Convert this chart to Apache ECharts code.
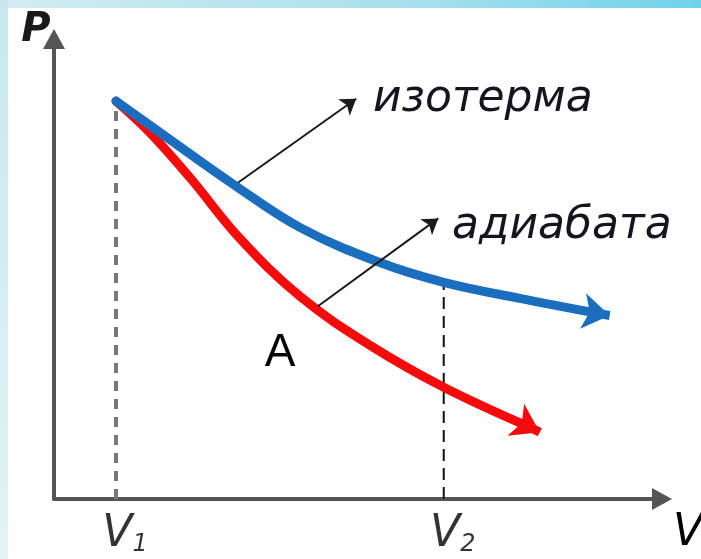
<!DOCTYPE html>
<html>
<head>
<meta charset="utf-8">
<script src="https://cdn.jsdelivr.net/npm/echarts@6/dist/echarts.min.js"></script>
<style>
html, body { margin: 0; padding: 0; background: #fff; }
#chart { width: 701px; height: 559px; }
</style>
</head>
<body>
<div id="chart"></div>
<script>
// V и P в условных единицах осей (0..10)
var isotherm = [[1.02, 8.65], [1.91, 7.81], [2.94, 6.85], [4.05, 5.9], [5.36, 5.14], [6.41, 4.71], [7.66, 4.36], [8.96, 4.03]];
var isothermTip = [9.14, 3.99];
var adiabat = [[1.02, 8.65], [1.58, 7.96], [2.24, 6.98], [3.06, 5.66], [4.05, 4.4], [5.2, 3.34], [6.41, 2.43], [7.83, 1.56]];
var adiabatTip = [7.99, 1.45];
var volumes = [1.02, 6.41];
var volumeSubs = ['1', '2'];
// стрелки-указатели к подписям
var pointers = [
  [[3.03, 6.88], [4.97, 8.7]],
  [[4.34, 4.19], [6.32, 6.1]]
];
var curveNames = ['изотерма', 'адиабата'];

var chart = echarts.init(document.getElementById('chart'));

var italic = 'italic 44px "DejaVu Sans"';

function axisStyle () {
  return {
    type: 'value', min: 0, max: 10,
    axisLine: {
      symbol: ['none', 'triangle'], symbolSize: [22, 20],
      lineStyle: { color: '#555', width: 4 }
    },
    axisTick: { show: false }, axisLabel: { show: false }, splitLine: { show: false }
  };
}

chart.setOption({
  backgroundColor: '#fff',
  animation: false,
  grid: { left: 54, right: 39, top: 39, bottom: 60 },
  xAxis: axisStyle(),
  yAxis: axisStyle(),
  graphic: [
    { type: 'rect', z: -10, shape: { x: 0, y: 0, width: 701, height: 8 },
      style: { fill: new echarts.graphic.LinearGradient(0, 0, 1, 0, [{ offset: 0, color: '#d3ecf1' }, { offset: 0.6, color: '#a6e0ec' }, { offset: 1, color: '#6fd2ea' }]) } },
    { type: 'rect', z: -10, shape: { x: 0, y: 0, width: 8, height: 559 },
      style: { fill: new echarts.graphic.LinearGradient(0, 0, 0, 1, [{ offset: 0, color: '#c8e7ee' }, { offset: 1, color: '#e3f3f6' }]) } },
    { type: 'text', x: 373, y: 100, style: { text: curveNames[0], font: italic, fill: '#151520', align: 'left', verticalAlign: 'middle' } },
    { type: 'text', x: 452, y: 227, style: { text: curveNames[1], font: italic, fill: '#151520', align: 'left', verticalAlign: 'middle' } },
    { type: 'text', x: 280, y: 353, style: { text: 'A', font: '46px "Liberation Sans"', fill: '#000', align: 'center', verticalAlign: 'middle' } },
    { type: 'text', x: 36, y: 31, style: { text: 'P', font: 'italic bold 40px "DejaVu Sans"', fill: '#1a1a1a', align: 'center', verticalAlign: 'middle' } },
    { type: 'text', x: 688, y: 534, style: { text: 'V', font: 'italic 44px "DejaVu Sans"', fill: '#000', align: 'center', verticalAlign: 'middle' } }
  ],
  series: [
    {
      type: 'line', symbol: 'none', silent: true,
      data: [[volumes[0], 0], adiabat[0]],
      lineStyle: { color: '#777', width: 4, type: [10, 8] }
    },
    {
      type: 'line', symbol: 'none', silent: true,
      data: [[volumes[1], 0], [volumes[1], isotherm[5][1]]],
      lineStyle: { color: '#111', width: 2, type: [12, 7] }
    },
    {
      name: 'адиабата', type: 'line', symbol: 'none', smooth: 0.38, z: 3,
      data: adiabat,
      lineStyle: { color: '#f40c0c', width: 9, cap: 'round' }
    },
    {
      name: 'изотерма', type: 'line', symbol: 'none', smooth: 0.38, z: 4,
      data: isotherm,
      lineStyle: { color: '#1b6dbd', width: 9, cap: 'round' }
    },
    {
      type: 'lines', coordinateSystem: 'cartesian2d', z: 5,
      symbol: ['none', 'arrow'], symbolSize: 27,
      data: [
        { coords: [adiabat[adiabat.length - 1], adiabatTip], lineStyle: { color: '#f40c0c', width: 9, opacity: 1 } },
        { coords: [isotherm[isotherm.length - 1], isothermTip], lineStyle: { color: '#1b6dbd', width: 9, opacity: 1 } }
      ]
    },
    {
      type: 'lines', coordinateSystem: 'cartesian2d', z: 6,
      symbol: ['none', 'arrow'], symbolSize: 15,
      lineStyle: { color: '#1a1a1a', width: 2, opacity: 1 },
      data: pointers.map(function (p) { return { coords: p }; })
    },
    {
      type: 'scatter', symbolSize: 0, silent: true,
      data: volumes.map(function (v, i) { return { value: [v, 0], sub: volumeSubs[i] }; }),
      label: {
        show: true, position: 'bottom', distance: 14, offset: [9, 0],
        formatter: function (p) { return '{v|V}{s|' + p.data.sub + '}'; },
        rich: {
          v: { fontFamily: 'DejaVu Sans', fontStyle: 'italic', fontSize: 44, color: '#000' },
          s: { fontFamily: 'DejaVu Sans', fontStyle: 'italic', fontSize: 24, color: '#000', padding: [20, 0, 0, 0] }
        }
      }
    }
  ]
});
</script>
</body>
</html>
